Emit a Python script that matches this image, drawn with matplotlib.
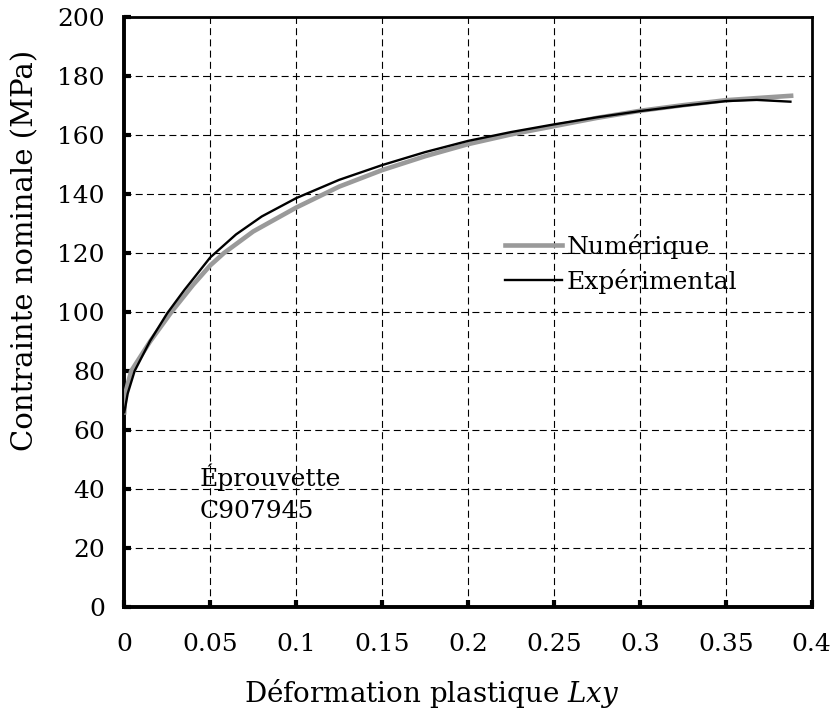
import matplotlib
matplotlib.use("Agg")
import matplotlib.pyplot as plt

plt.rcParams['font.family'] = ['DejaVu Serif']
plt.rcParams['mathtext.fontset'] = 'dejavuserif'

# Data
exp_x = [0, 0.002, 0.006, 0.015, 0.025, 0.035, 0.05, 0.065, 0.08, 0.1,
         0.125, 0.15, 0.175, 0.2, 0.225, 0.25, 0.275, 0.3, 0.325, 0.35, 0.368, 0.3876]
exp_y = [66, 72.4, 80, 90.2, 99.6, 107.5, 118.5, 126.3, 132.4, 138.6,
         144.8, 149.8, 154.2, 158.0, 161.0, 163.6, 166.0, 168.1, 169.9, 171.5, 171.9, 171.3]

num_x = [0, 0.0006, 0.004, 0.015, 0.0274, 0.04, 0.05, 0.058, 0.075, 0.1,
         0.125, 0.15, 0.175, 0.2, 0.225, 0.25, 0.275, 0.3, 0.325, 0.35, 0.37, 0.388]
num_y = [66, 72.4, 80, 90, 100, 109.2, 115.8, 120, 127.3, 135.4,
         142.5, 148.1, 152.8, 156.9, 160.2, 163, 165.8, 168.2, 170.1, 171.8, 172.6, 173.3]

x_ticks = [0, 0.05, 0.1, 0.15, 0.2, 0.25, 0.3, 0.35, 0.4]
x_tick_labels = ['0', '0.05', '0.1', '0.15', '0.2', '0.25', '0.3', '0.35', '0.4']
y_ticks = [0, 20, 40, 60, 80, 100, 120, 140, 160, 180, 200]

FS = 18

fig = plt.figure(figsize=(8.37, 7.15), dpi=100)
ax = fig.add_axes([0.1485, 0.151, 0.8213, 0.8252])

ax.plot(num_x, num_y, color='#9a9a9a', lw=3.3, label='Numérique', zorder=3)
ax.plot(exp_x, exp_y, color='black', lw=1.7, label='Expérimental', zorder=4)

ax.set_xlim(0, 0.4)
ax.set_ylim(0, 200)
ax.set_xticks(x_ticks)
ax.set_xticklabels(x_tick_labels)
ax.set_yticks(y_ticks)

ax.grid(True, color='black', lw=0.8, linestyle=(0, (6.3, 3.8)))
ax.set_axisbelow(True)

for side in ['left', 'bottom']:
    ax.spines[side].set_linewidth(2.8)
for side in ['top', 'right']:
    ax.spines[side].set_linewidth(2.0)

ax.tick_params(axis='both', direction='in', length=5, width=3, labelsize=FS)
ax.tick_params(axis='x', pad=19)
ax.tick_params(axis='y', pad=14)

ax.set_xlabel('Déformation plastique $\\mathit{Lxy}$', fontsize=20)
ax.xaxis.set_label_coords(0.448, -0.118)
ax.set_ylabel('Contrainte nominale (MPa)', fontsize=21)
ax.yaxis.set_label_coords(-0.123, 0.605)

ax.text(0.044, 30.1, 'Éprouvette\nC907945', fontsize=FS, va='baseline', ha='left',
        linespacing=1.5)

ax.legend(loc='upper left', bbox_to_anchor=(0.554, 0.632), frameon=False,
          fontsize=FS, handlelength=2.27, handletextpad=0.2, labelspacing=0.4,
          borderpad=0, borderaxespad=0)

fig.savefig('out.png', dpi=100)
